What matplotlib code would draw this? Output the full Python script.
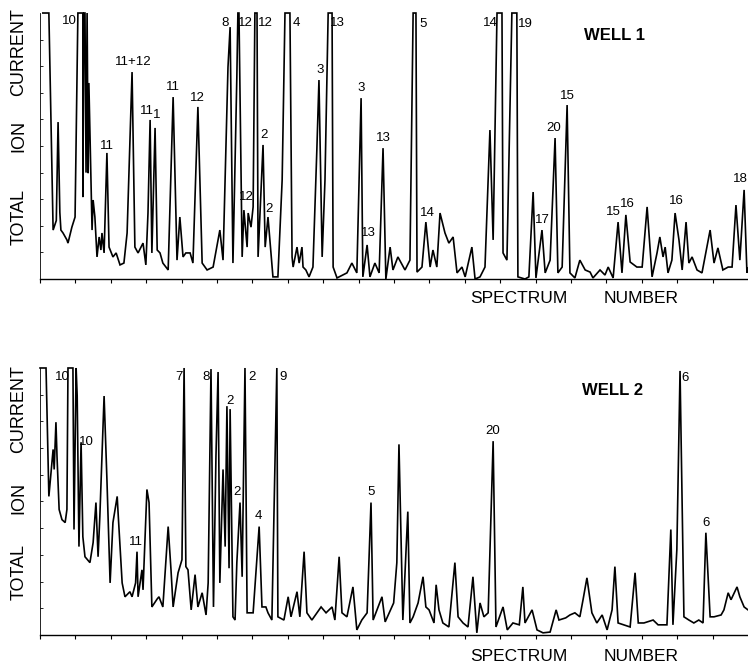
import matplotlib
matplotlib.use("Agg")
import matplotlib.pyplot as plt
from matplotlib import font_manager

# Well 1 trace: spectrum number, total ion current (% of full scale, clipped at 100)
well1_x = [0.8, 2.5, 3.7, 4.6, 5.1, 5.6, 5.9, 6.5, 7.6, 7.9, 9.0, 9.9, 10.7, 12.1, 12.1, 12.4, 12.7,
           13.0, 13.3, 13.6, 13.8, 14.7, 15.0, 15.5, 16.1, 16.7, 17.2, 17.5, 18.1, 18.9, 19.5, 20.6,
           21.5, 22.6, 23.7, 24.6, 26.0, 26.8, 27.7, 29.1, 29.9, 30.5, 31.1, 31.6, 32.5, 33.1, 33.9,
           34.7, 36.2, 37.6, 38.7, 39.5, 40.4, 41.2, 42.4, 43.2, 44.6, 45.8, 47.2, 48.9, 50.8, 51.7,
           53.1, 53.7, 54.5, 55.6, 55.9, 56.2, 57.1, 57.6, 58.5, 58.8, 59.6, 60.2, 60.7, 61.3, 61.6,
           63.0, 63.6, 64.4, 65.8, 67.2, 68.4, 69.2, 70.6, 71.2, 71.5, 72.6, 73.2, 74.0, 74.3, 75.1,
           76.0, 77.1, 78.2, 78.8, 79.7, 80.5, 81.4, 82.5, 82.8, 83.9, 86.7, 88.1, 89.5, 90.7, 91.2,
           92.4, 93.2, 94.6, 95.8, 96.9, 97.7, 98.9, 99.7, 101.1, 103.1, 104.5, 105.4, 106.2, 106.5,
           107.9, 109.0, 110.2, 111.0, 112.1, 113.0, 114.4, 115.5, 116.7, 117.8, 119.2, 120.1, 122.0,
           122.9, 124.3, 125.7, 127.1, 128.0, 129.1, 130.5, 130.8, 131.9, 133.3, 134.7, 135.0, 137.0,
           138.1, 139.3, 140.1, 141.8, 142.7, 144.1, 145.5, 146.3, 147.5, 148.9, 149.7, 151.1, 152.5,
           154.0, 155.4, 156.2, 158.2, 159.6, 160.5, 161.9, 163.3, 164.4, 165.5, 166.7, 168.6, 170.1,
           171.5, 172.9, 174.3, 175.1, 176.0, 176.6, 177.4, 178.5, 179.4, 180.5, 181.4, 182.5, 183.3,
           184.2, 185.6, 187.0, 189.3, 190.4, 191.5, 192.9, 194.4, 195.5, 196.6, 197.7, 198.9, 199.7,
           200.0]
well1_y = [100, 100, 18.4, 22, 59, 25, 18.4, 17.3, 14.7, 13.5, 19.5, 23.3, 100, 100, 30.8, 100, 100,
           40, 100, 39.8, 73.7, 18.4, 29.7, 23.3, 8.3, 15.8, 10.9, 17.3, 9.8, 47.4, 12.0, 8.3,
           9.8, 5.3, 6.0, 17.3, 77.8, 12.0, 9.8, 13.5, 5.3, 24.8, 59.8, 9.8, 56.8, 10.9, 9.8,
           6.0, 3.4, 68.4, 7.1, 23.3, 8.3, 9.8, 9.8, 6.0, 64.7, 6.0, 3.4, 4.5, 18.4, 7.1,
           79.7, 94.7, 6.0, 75.9, 100, 100, 8.3, 25.9, 12.0, 24.8, 19.5, 27.1, 100, 100, 8.3,
           50.4, 12.0, 23.3, 0.8, 0.8, 37.2, 100, 100, 8.3, 4.5, 12.0, 6.0, 12.0, 4.5, 3.4,
           0.8, 4.5, 48.5, 74.8, 8.3, 37.2, 100, 100, 4.5, 0.4, 2.3, 6.0, 2.3, 68.0, 0.8,
           12.8, 0.8, 6.0, 2.3, 49.2, 0.0, 12.0, 3.4, 8.3, 3.4, 7.1, 100, 100, 2.6,
           4.5, 21.4, 4.5, 10.9, 4.5, 24.8, 17.3, 13.5, 15.8, 2.3, 4.5, 0.8, 12.0,
           0.0, 0.8, 4.5, 56.0, 14.7, 100, 100, 9.8, 7.1, 100, 100, 0.8, 0.0,
           0.8, 32.7, 0.4, 18.4, 2.3, 7.1, 53.0, 2.3, 4.5, 65.4, 2.3, 0.4, 7.1,
           3.4, 2.6, 0.4, 3.4, 1.5, 4.5, 0.4, 21.4, 2.3, 24.1, 6.4, 4.5, 4.5,
           27.1, 0.8, 9.8, 15.8, 8.3, 12.0, 2.3, 7.1, 24.8, 14.7, 3.4, 21.4, 6.0,
           8.3, 3.4, 2.3, 18.4, 6.0, 11.7, 3.4, 4.5, 4.5, 27.8, 7.1, 33.5, 2.3,
           4.0]

# Well 2 trace
well2_x = [0.0, 1.7, 2.5, 3.1, 3.7, 4.0, 4.5, 4.8, 5.4, 6.2, 7.1, 7.6, 7.9, 9.3, 9.6, 10.2, 10.5,
           11.0, 11.6, 12.1, 12.7, 14.1, 15.0, 15.8, 16.4, 16.9, 18.1, 18.9, 19.8, 20.6, 21.8, 22.0,
           23.2, 24.0, 25.4, 26.0, 27.0, 27.4, 27.7, 28.8, 29.1, 30.2, 30.8, 31.6, 33.1, 33.6, 34.7,
           36.2, 37.0, 37.6, 39.0, 40.1, 40.7, 41.2, 41.8, 42.7, 43.8, 44.6, 45.8, 46.9, 47.5, 48.3,
           49.0, 49.7, 50.3, 50.8, 51.7, 52.3, 52.8, 53.4, 53.7, 54.5, 55.1, 55.6, 56.5, 57.1, 57.9,
           58.5, 60.2, 61.9, 62.7, 63.8, 64.4, 65.5, 66.9, 67.2, 68.9, 70.1, 70.9, 72.6, 73.4, 74.6,
           75.4, 76.8, 79.4, 80.8, 82.5, 83.3, 84.5, 85.3, 86.7, 88.4, 89.5, 90.9, 92.4, 93.5, 94.1,
           96.6, 97.5, 99.9, 100.8, 101.4, 102.5, 103.9, 104.5, 105.4, 106.8, 108.2, 109.0, 109.9,
           111.3, 111.9, 112.7, 113.8, 115.5, 117.2, 118.1, 119.5, 120.9, 122.3, 123.4, 124.3, 125.4,
           126.6, 128.0, 128.8, 130.8, 132.0, 133.6, 135.4, 136.4, 137.0, 139.0, 140.4, 142.1, 144.1,
           145.8, 146.6, 148.5, 149.7, 151.1, 152.5, 153.4, 154.5, 155.9, 157.3, 158.8, 160.2, 161.6,
           162.4, 163.3, 166.7, 168.1, 169.0, 170.6, 173.2, 174.6, 177.1, 178.2, 178.8, 179.9, 180.8,
           181.9, 183.3, 184.7, 186.1, 187.3, 188.1, 189.3, 190.4, 192.4, 193.2, 194.4, 195.2, 196.9,
           197.7, 198.9, 200.0]
well2_y = [100, 100, 51.9, 60.9, 69.5, 62.0, 79.7, 66.9, 47.0, 43.2, 42.1, 47.0, 100, 100, 39.5, 100, 89.5,
           33.1, 72.2, 36.8, 29.3, 27.1, 34.6, 49.6, 29.3, 44.4, 89.5, 58.3, 19.5, 42.1, 51.9, 47.0,
           19.5, 14.3, 16.2, 14.3, 19.5, 31.2, 14.3, 24.4, 16.9, 54.5, 49.6, 10.5, 13.5, 14.3, 10.5,
           40.6, 24.4, 10.5, 23.3, 28.2, 100, 25.6, 24.4, 9.4, 22.6, 10.5, 15.8, 7.5, 19.5, 99.6,
           10.5, 66.9, 98.5, 19.5, 62.0, 33.1, 85.7, 25.0, 84.6, 6.8, 5.6, 27.1, 49.6, 21.8, 100,
           8.3, 8.3, 40.6, 10.5, 10.5, 8.3, 5.6, 100, 6.8, 5.6, 14.3, 6.8, 16.2, 6.8, 31.2,
           8.3, 5.6, 10.5, 8.3, 10.5, 5.6, 29.3, 8.3, 6.8, 18.0, 1.9, 5.6, 8.3, 49.6, 5.6,
           14.3, 4.9, 12.0, 27.1, 71.4, 5.6, 46.2, 4.5, 6.8, 12.0, 21.8, 10.5, 9.4,
           4.5, 18.8, 9.4, 4.5, 3.0, 27.1, 6.8, 4.5, 3.0, 21.8, 0.8, 12.0, 6.8,
           8.3, 72.6, 3.0, 10.5, 1.9, 4.5, 3.8, 18.0, 4.5, 9.4, 1.9, 0.8, 1.1,
           9.4, 5.6, 6.4, 7.5, 8.3, 6.8, 13.2, 21.4, 8.3, 4.5, 7.5, 1.9, 9.4,
           25.6, 4.5, 3.0, 23.3, 4.5, 4.5, 5.6, 3.8, 3.8, 39.5, 3.8, 32.0, 98.9,
           6.8, 5.6, 4.5, 5.6, 4.5, 38.3, 6.8, 6.8, 7.5, 9.4, 15.8, 13.2, 18.0,
           14.3, 10.5, 9.4]

# peak labels: text, spectrum number, height
well1_labels = [("10", 8.2, 97.0), ("11+12", 26.3, 81.6), ("11", 18.9, 50.0), ("11", 30.2, 63.2),
                ("1", 33.0, 61.7), ("11", 37.6, 72.2), ("12", 44.4, 68.0), ("8", 52.3, 96.2),
                ("12", 57.9, 96.2), ("12", 63.6, 96.2), ("12", 58.2, 30.8), ("2", 63.3, 54.1),
                ("2", 64.7, 26.3), ("4", 72.3, 96.2), ("3", 79.1, 78.6), ("13", 83.9, 96.2),
                ("3", 90.7, 71.8), ("13", 92.9, 17.3), ("13", 96.9, 53.0), ("5", 108.2, 95.9),
                ("14", 109.3, 24.8), ("14", 127.1, 96.2), ("19", 137.0, 95.9), ("15", 148.9, 68.8),
                ("20", 145.2, 56.8), ("17", 141.8, 22.2), ("15", 162.1, 25.2), ("16", 165.8, 28.2),
                ("16", 179.9, 29.3), ("18", 197.9, 37.6)]
well2_labels = [("10", 6.2, 96.6), ("10", 13.0, 72.2), ("11", 27.1, 35.0), ("7", 39.3, 96.6),
                ("8", 46.9, 96.6), ("2", 53.7, 87.6), ("2", 55.6, 53.4), ("2", 59.9, 96.6),
                ("9", 68.6, 96.6), ("4", 61.6, 44.4), ("5", 93.5, 53.4), ("20", 128.0, 76.3),
                ("6", 182.2, 96.2), ("6", 188.1, 42.1)]

installed = {f.name for f in font_manager.fontManager.ttflist}
num_font = "Liberation Sans Narrow" if "Liberation Sans Narrow" in installed else "Liberation Sans"
label_font = "Liberation Sans"

fig = plt.figure(figsize=(7.48, 6.64), dpi=100)
ax1 = fig.add_axes([0.0535, 0.5798, 0.9465, 0.4006])
ax2 = fig.add_axes([0.0535, 0.0437, 0.9465, 0.4021])

panels = [(ax1, well1_x, well1_y, well1_labels, "WELL 1", 162.4, 91.4),
          (ax2, well2_x, well2_y, well2_labels, "WELL 2", 161.6, 91.7)]

for ax, xs, ys, labels, title, tx, ty in panels:
    ax.plot(xs, ys, color="black", lw=1.2, solid_joinstyle="miter", clip_on=False)
    ax.set_xlim(0, 200)
    ax.set_ylim(0, 100)
    for s in ["top", "right"]:
        ax.spines[s].set_visible(False)
    ax.spines["bottom"].set_linewidth(1.0)
    ax.spines["left"].set_linewidth(0.6)
    ax.set_xticks(range(0, 200, 10))
    ax.set_yticks(range(10, 100, 10))
    ax.tick_params(axis="x", direction="out", length=3, width=0.8, labelbottom=False)
    ax.tick_params(axis="y", direction="in", length=2, width=0.6, labelleft=False)
    for txt, x, y in labels:
        ax.text(x, y, txt, ha="center", va="center", fontsize=9.5, family=num_font, clip_on=False)
    ax.text(tx, ty, title, ha="center", va="center", fontsize=12, fontweight="bold",
            family=label_font)
    ax.patch.set_alpha(0)

# axis titles, written as separate words as in the original lettering
for words_y, spec_y in [((0.921, 0.795, 0.673), 0.550), ((0.384, 0.250, 0.139), 0.012)]:
    for word, yy in zip(["CURRENT", "ION", "TOTAL"], words_y):
        fig.text(0.025, yy, word, rotation=90, ha="center", va="center", fontsize=13,
                 family=label_font)
    fig.text(0.694, spec_y, "SPECTRUM", ha="center", va="center", fontsize=12.5, family=label_font)
    fig.text(0.857, spec_y, "NUMBER", ha="center", va="center", fontsize=12.5, family=label_font)

fig.savefig("out.png", dpi=100)
